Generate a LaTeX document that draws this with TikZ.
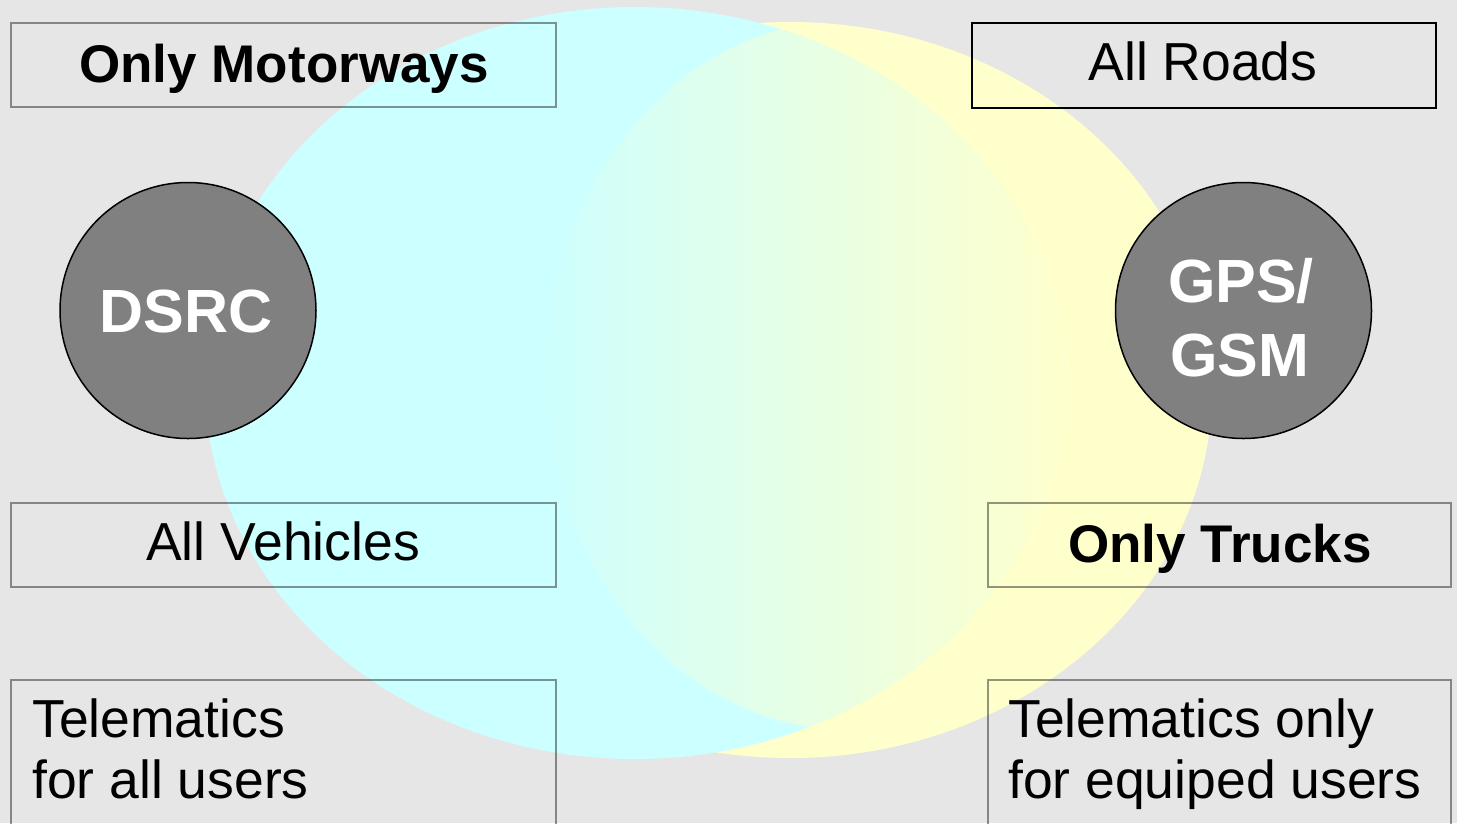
\documentclass[tikz,border=0pt]{standalone}
\usepackage{fontspec}
\setmainfont{Liberation Sans}
\definecolor{bgc}{HTML}{E6E6E6}
\definecolor{cyanc}{HTML}{CCFFFF}
\definecolor{yellowc}{HTML}{FFFFCC}
\definecolor{discc}{HTML}{808080}
\begin{document}
\begin{tikzpicture}[x=1pt,y=-1pt,
  lbox/.style={draw=black, draw opacity=0.42, line width=1.3pt, fill=none,
    rectangle, inner sep=0pt, outer sep=0pt},
  darkbox/.style={draw=black, line width=2pt, fill=none,
    rectangle, inner sep=0pt, outer sep=0pt},
  disc/.style={circle, draw=black, line width=1.5pt, fill=discc,
    minimum size=256pt, inner sep=0pt},
  lbl/.style={font=\fontsize{53.5}{63}\selectfont, inner sep=0pt, anchor=base},
  lblb/.style={lbl, font=\fontsize{53}{63}\selectfont\bfseries},
  tline/.style={font=\fontsize{53.5}{63}\selectfont, inner sep=0pt, anchor=base west},
  disctxt/.style={font=\fontsize{61}{72}\selectfont\bfseries, text=white,
    inner sep=0pt, anchor=base}]

  % canvas
  \useasboundingbox (0,0) rectangle (1457,823);
  \fill[bgc] (0,0) rectangle (1457,823);

  % coverage areas
  \fill[yellowc] (790,390) ellipse [x radius=422pt, y radius=368pt];
  \fill[cyanc] (635,383) ellipse [x radius=430pt, y radius=376pt];

  % common area, blended from one colour to the other
  \begin{scope}
    \clip (635,383) ellipse [x radius=430pt, y radius=376pt];
    \clip (850,375) ellipse [x radius=305pt, y radius=355pt];
    \shade[left color=cyanc, right color=yellowc] (525,0) rectangle (1070,823);
  \end{scope}

  % frames
  \node[lbox, minimum width=545pt, minimum height=84pt] (bMot) at (283.5,65) {};
  \node[darkbox, minimum width=464pt, minimum height=85pt] (bRoads) at (1204,65.5) {};
  \node[lbox, minimum width=545pt, minimum height=84pt] (bVeh) at (283.5,545) {};
  \node[lbox, minimum width=463pt, minimum height=84pt] (bTrk) at (1219.5,545) {};
  \node[lbox, minimum width=545pt, minimum height=160pt] (bTelL) at (283.5,760) {};
  \node[lbox, minimum width=463pt, minimum height=160pt] (bTelR) at (1219.5,760) {};

  % technologies
  \node[disc] (dsrc) at (188,310.5) {};
  \node[disc] (gps) at (1243.5,310.5) {};
  \node[disctxt] (dsrcT) at (186,332) {DSRC};
  \node[disctxt] (gpsT1) at (1241,302) {GPS/};
  \node[disctxt] (gpsT2) at (1240,376) {GSM};

  % labels
  \node[lblb] (tMot) at (284,82) {Only Motorways};
  \node[lbl] (tRoads) at (1203,80) {All Roads};
  \node[lbl] (tVeh) at (283,560) {All Vehicles};
  \node[lblb] (tTrk) at (1220,562) {Only Trucks};
  \node[tline] (tTelL1) at (32,737) {Telematics};
  \node[tline] (tTelL2) at (32,798) {for all users};
  \node[tline] (tTelR1) at (1008,737) {Telematics only};
  \node[tline] (tTelR2) at (1008,798) {for equiped users};
\end{tikzpicture}
\end{document}
